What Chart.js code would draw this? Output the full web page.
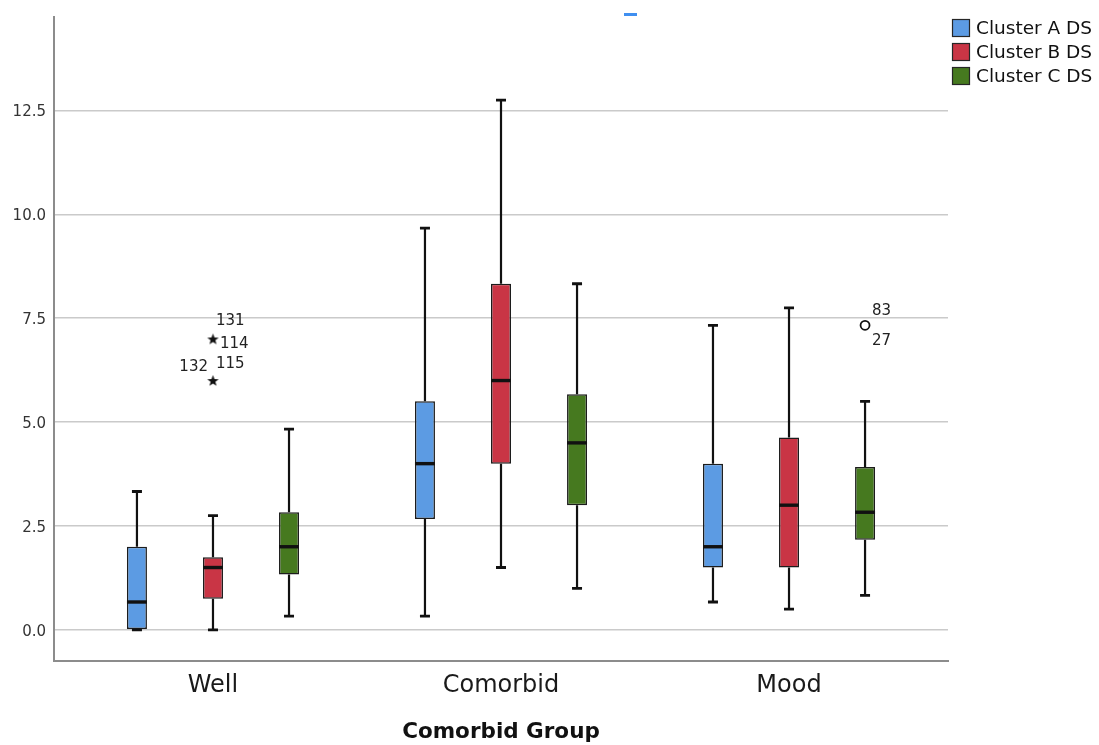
<!DOCTYPE html>
<html>
<head>
<meta charset="utf-8">
<title>Cluster DS by Comorbid Group</title>
<script src="https://cdn.jsdelivr.net/npm/chart.js@4.4.1/dist/chart.umd.min.js"></script>
<style>
  html, body { margin: 0; padding: 0; background: #ffffff; }
  #wrap { width: 1099px; height: 745px; position: relative; }
</style>
</head>
<body>
<div id="wrap"><canvas id="box"></canvas></div>
<script>
// Groups on the x axis and the three cluster series
const groups = ['Well', 'Comorbid', 'Mood'];
const seriesNames = ['Cluster A DS', 'Cluster B DS', 'Cluster C DS'];
const yTicks = [0, 2.5, 5, 7.5, 10, 12.5];

// Box statistics per series, one value per group (Well, Comorbid, Mood)
const aLow    = [0.00, 0.33, 0.67];
const aQ1     = [0.00, 2.67, 1.50];
const aMedian = [0.67, 4.00, 2.00];
const aQ3     = [2.00, 5.50, 4.00];
const aHigh   = [3.33, 9.67, 7.33];

const bLow    = [0.00, 1.50, 0.50];
const bQ1     = [0.75, 4.00, 1.50];
const bMedian = [1.50, 6.00, 3.00];
const bQ3     = [1.75, 8.33, 4.63];
const bHigh   = [2.75, 12.75, 7.75];

const cLow    = [0.33, 1.00, 0.83];
const cQ1     = [1.33, 3.00, 2.17];
const cMedian = [2.00, 4.50, 2.83];
const cQ3     = [2.83, 5.67, 3.92];
const cHigh   = [4.83, 8.33, 5.50];

// Extreme values (stars) and outliers (circles): series index, group index, value, case ids
const extremeSeries = [1, 1];
const extremeGroup  = [0, 0];
const extremeValue  = [7.0, 6.0];
const extremeIds    = [['131', '114'], ['132', '115']];

const outlierSeries = [2];
const outlierGroup  = [2];
const outlierValue  = [7.33];
const outlierIds    = [['83', '27']];

const stats = [
  { low: aLow, q1: aQ1, med: aMedian, q3: aQ3, high: aHigh },
  { low: bLow, q1: bQ1, med: bMedian, q3: bQ3, high: bHigh },
  { low: cLow, q1: cQ1, med: cMedian, q3: cQ3, high: cHigh }
];

const fills = ['#5c9be3', '#c93545', '#46791f'];
const CAT_PCT = 0.792;
const BAR_PCT = 0.263;
const FONT = '"DejaVu Sans", "Noto Sans", sans-serif';

// x position of a series box inside a group, in group units
function slotX(group, series) {
  return group + (series - 1) * CAT_PCT / 3;
}

// Small filled star used for extreme values
function makeStar() {
  const c = document.createElement('canvas');
  c.width = 13; c.height = 13;
  const g = c.getContext('2d');
  g.fillStyle = '#111';
  g.beginPath();
  for (let i = 0; i < 10; i++) {
    const r = i % 2 === 0 ? 6 : 2.5;
    const a = -Math.PI / 2 + i * Math.PI / 5;
    const px = 6.5 + r * Math.cos(a), py = 7 + r * Math.sin(a);
    if (i === 0) g.moveTo(px, py); else g.lineTo(px, py);
  }
  g.closePath();
  g.fill();
  return c;
}

const boxDatasets = stats.map((s, si) => ({
  type: 'bar',
  label: seriesNames[si],
  data: groups.map((_, gi) => ({ x: gi, y: [s.q1[gi], s.q3[gi]] })),
  backgroundColor: fills[si],
  borderColor: '#1c1c1c',
  borderWidth: 1.5,
  borderSkipped: false,
  categoryPercentage: CAT_PCT,
  barPercentage: BAR_PCT,
  order: 2
}));

const extremeSet = {
  type: 'scatter',
  label: 'extremes',
  data: extremeValue.map((v, i) => ({ x: slotX(extremeGroup[i], extremeSeries[i]), y: v, ids: extremeIds[i] })),
  pointStyle: makeStar(),
  pointRadius: 6,
  order: 1
};

const outlierSet = {
  type: 'scatter',
  label: 'outliers',
  data: outlierValue.map((v, i) => ({ x: slotX(outlierGroup[i], outlierSeries[i]), y: v, ids: outlierIds[i] })),
  pointStyle: 'circle',
  pointRadius: 4.5,
  borderWidth: 1.8,
  borderColor: '#111',
  backgroundColor: '#ffffff',
  order: 1
};

// Label offsets around marked cases (px from the point)
const idPlacement = {
  '131': [3, -18, 'left'],
  '114': [7, 5, 'left'],
  '132': [-5, -13, 'right'],
  '115': [3, -16, 'left'],
  '83':  [7, -14, 'left'],
  '27':  [7, 16, 'left']
};

// Whiskers, caps and medians on top of the bar boxes
const boxPlotPlugin = {
  id: 'boxPlot',
  afterDatasetsDraw(chart) {
    const ctx = chart.ctx;
    const y = chart.scales.y;
    ctx.save();
    ctx.strokeStyle = '#111';
    stats.forEach((s, si) => {
      const meta = chart.getDatasetMeta(si);
      meta.data.forEach((el, gi) => {
        const cx = el.x, w = el.width;
        const yLow = y.getPixelForValue(s.low[gi]);
        const yQ1 = y.getPixelForValue(s.q1[gi]);
        const yQ3 = y.getPixelForValue(s.q3[gi]);
        const yHigh = y.getPixelForValue(s.high[gi]);
        const yMed = y.getPixelForValue(s.med[gi]);
        ctx.lineWidth = 2.2;
        ctx.beginPath();
        ctx.moveTo(cx, yQ3); ctx.lineTo(cx, yHigh);
        ctx.moveTo(cx, yQ1); ctx.lineTo(cx, yLow);
        ctx.stroke();
        ctx.lineWidth = 2.8;
        ctx.beginPath();
        ctx.moveTo(cx - 5, yHigh); ctx.lineTo(cx + 5, yHigh);
        ctx.moveTo(cx - 5, yLow); ctx.lineTo(cx + 5, yLow);
        ctx.stroke();
        ctx.lineWidth = 3.4;
        ctx.beginPath();
        ctx.moveTo(cx - w / 2, yMed); ctx.lineTo(cx + w / 2, yMed);
        ctx.stroke();
      });
    });
    ctx.restore();
  },
  afterDraw(chart) {
    const ctx = chart.ctx;
    ctx.save();
    // case numbers next to extreme values and outliers
    ctx.font = '15px ' + FONT;
    ctx.fillStyle = '#222';
    ctx.textBaseline = 'middle';
    [3, 4].forEach(di => {
      const meta = chart.getDatasetMeta(di);
      const ds = chart.data.datasets[di];
      meta.data.forEach((pt, i) => {
        ds.data[i].ids.forEach(id => {
          const p = idPlacement[id];
          ctx.textAlign = p[2];
          ctx.fillText(id, pt.x + p[0], pt.y + p[1]);
        });
      });
    });
    // legend
    const lx = 952, ly = 19, step = 24;
    ctx.font = '18.5px ' + FONT;
    ctx.textAlign = 'left';
    seriesNames.forEach((name, i) => {
      const top = ly + i * step;
      ctx.fillStyle = fills[i];
      ctx.fillRect(lx, top, 18, 18);
      ctx.strokeStyle = '#262626';
      ctx.lineWidth = 1.2;
      ctx.strokeRect(lx + 0.5, top + 0.5, 17, 17);
      ctx.fillStyle = '#111';
      ctx.fillText(name, lx + 24, top + 10);
    });
    // small blue tick above the plot
    ctx.fillStyle = '#3f8ff0';
    ctx.fillRect(624, 13, 13, 3);
    ctx.restore();
  }
};

new Chart(document.getElementById('box'), {
  type: 'bar',
  data: { datasets: [...boxDatasets, extremeSet, outlierSet] },
  options: {
    responsive: true,
    maintainAspectRatio: false,
    animation: false,
    layout: { padding: { top: 17, right: 151, left: 0, bottom: 0 } },
    plugins: {
      legend: { display: false },
      tooltip: { enabled: false }
    },
    scales: {
      x: {
        type: 'linear',
        offset: false,
        min: -0.552,
        max: 2.552,
        afterBuildTicks: s => { s.ticks = groups.map((_, i) => ({ value: i })); },
        afterFit: s => { s.height = 84; },
        grid: { display: false, drawTicks: false },
        border: { display: true, color: '#8c8c8c', width: 2 },
        ticks: {
          autoSkip: false,
          maxRotation: 0,
          padding: 10,
          color: '#1a1a1a',
          font: { family: FONT, size: 24 },
          callback: v => groups[v]
        },
        title: {
          display: true,
          text: 'Comorbid Group',
          color: '#111',
          font: { family: FONT, size: 21.5, weight: 'bold' },
          padding: { top: 0, bottom: 0 }
        }
      },
      y: {
        min: -0.75,
        max: 14.75,
        afterBuildTicks: s => { s.ticks = yTicks.map(v => ({ value: v })); },
        afterFit: s => { s.width = 54; },
        grid: { color: '#cacaca', lineWidth: 1.5, drawTicks: false },
        border: { display: true, color: '#8c8c8c', width: 2 },
        ticks: {
          padding: 8,
          labelOffset: 2,
          color: '#333',
          font: { family: FONT, size: 15 },
          callback: v => Number(v).toFixed(1)
        }
      }
    }
  },
  plugins: [boxPlotPlugin]
});
</script>
</body>
</html>
